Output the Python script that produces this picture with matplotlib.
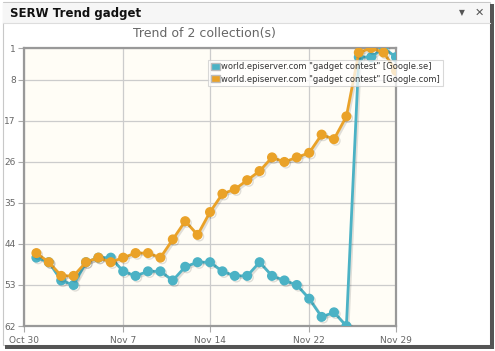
#!/usr/bin/env python3
import pandas as pd
import matplotlib
matplotlib.use("Agg")
import matplotlib.pyplot as plt
import matplotlib.patheffects as pe
from matplotlib.patches import Rectangle, Patch

# ─── data (rank) ────────────────────────────────────────────────────────────
DAYS      = pd.date_range("2008-10-31", "2008-11-29", freq="D")
GOOGLE_SE = [47, 48, 52, 53, 48, 47, 47, 50, 51, 50, 50, 52, 49, 48, 48,
             50, 51, 51, 48, 51, 52, 53, 56, 60, 59, 62, 3, 3, 1, 3]
GOOGLE_COM = [46, 48, 51, 51, 48, 47, 48, 47, 46, 46, 47, 43, 39, 42, 37,
              33, 32, 30, 28, 25, 26, 25, 24, 20, 21, 16, 2, 1, 2, 6]
SERIES_NAMES = ['world.episerver.com "gadget contest" [Google.se]',
                'world.episerver.com "gadget contest" [Google.com]']
Y_TICKS   = [1, 8, 17, 26, 35, 44, 53, 62]
X_TICKS   = ["2008-10-30", "2008-11-07", "2008-11-14", "2008-11-22", "2008-11-29"]
X_LABELS  = ["Oct 30", "Nov 7", "Nov 14", "Nov 22", "Nov 29"]

TEAL   = "#4bb2c5"
ORANGE = "#eaa228"
W, H   = 495, 351

fig = plt.figure(figsize=(W / 100, H / 100), dpi=100)
fig.patch.set_facecolor("white")

# ─── gadget window frame ────────────────────────────────────────────────────
def px_rect(x0, y0, x1, y1, **kw):
    fig.patches.append(Rectangle((x0 / W, 1 - y1 / H), (x1 - x0) / W, (y1 - y0) / H,
                                 transform=fig.transFigure, figure=fig, zorder=-10, **kw))

px_rect(3, 2, 490, 345, facecolor="white", edgecolor="#c8c8c8", lw=0.8)
px_rect(3, 3, 490, 23, facecolor="#f6f6f6", edgecolor="none")
fig.add_artist(plt.Line2D([3 / W, 490 / W], [1 - 23 / H] * 2, color="#dddddd", lw=0.8,
                          zorder=-5))
px_rect(490, 4, 494, 349, facecolor="#555555", edgecolor="none")
px_rect(5, 345, 494, 349, facecolor="#555555", edgecolor="none")

fig.text(10 / W, 1 - 13 / H, "SERW Trend gadget", fontsize=8.5, fontweight="bold",
         color="#111111", va="center", ha="left")
fig.text(462 / W, 1 - 13 / H, "▼", fontsize=5.5, color="#555555", va="center", ha="center")
fig.text(479 / W, 1 - 13 / H, "✕", fontsize=8, fontweight="bold", color="#555555",
         va="center", ha="center")
fig.text(204 / W, 1 - 33 / H, "Trend of 2 collection(s)", fontsize=9,
         color="#666666", va="center", ha="center")

# ─── plot ───────────────────────────────────────────────────────────────────
ax = fig.add_axes([24 / W, 1 - 326 / H, (396 - 24) / W, (326 - 48) / H])
ax.set_facecolor("#fffdf6")

shadow = [pe.SimpleLineShadow(offset=(1.2, -1.2), shadow_color="black", alpha=0.12),
          pe.Normal()]
ax.plot(DAYS, GOOGLE_SE, color=TEAL, lw=2.0, marker="o", ms=6.2, mec=TEAL,
        path_effects=shadow, zorder=3)
ax.plot(DAYS, GOOGLE_COM, color=ORANGE, lw=2.0, marker="o", ms=6.2, mec=ORANGE,
        path_effects=shadow, zorder=4)

ax.set_xlim(pd.Timestamp("2008-10-30"), pd.Timestamp("2008-11-29"))
ax.set_ylim(62, 1)
ax.set_yticks(Y_TICKS)
ax.set_yticklabels([str(v) for v in Y_TICKS])
ax.set_xticks([pd.Timestamp(t) for t in X_TICKS])
ax.set_xticklabels(X_LABELS)
ax.grid(True, color="#cccccc", lw=0.9)
ax.set_axisbelow(True)
ax.tick_params(axis="both", labelsize=6.5, labelcolor="#666666", color="#aaaaaa",
               length=4, width=0.8, pad=2)
ax.tick_params(axis="x", pad=3)
for s in ax.spines.values():
    s.set_color("#999999")
    s.set_linewidth(1.6)

# colour boxes in the legend, like the original
handles = [Patch(facecolor=TEAL, edgecolor="#bbbbbb"),
           Patch(facecolor=ORANGE, edgecolor="#bbbbbb")]
leg = ax.legend(handles, SERIES_NAMES, loc="upper left", bbox_to_anchor=(0.495, 0.957),
                fontsize=6, frameon=True, fancybox=False, borderpad=0.3,
                labelspacing=0.4, handlelength=1.1, handleheight=0.9,
                handletextpad=0.2, borderaxespad=0)
leg.get_frame().set_facecolor("white")
leg.get_frame().set_alpha(0.75)
leg.get_frame().set_edgecolor("#cccccc")
leg.get_frame().set_linewidth(0.8)
for t in leg.get_texts():
    t.set_color("#333333")
leg.set_zorder(10)

fig.savefig("out.png", dpi=100)
